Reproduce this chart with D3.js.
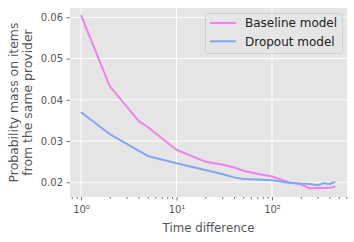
<!DOCTYPE html>
<html>
<head>
<meta charset='utf-8'>
<script src='https://cdn.jsdelivr.net/npm/d3@7'></script>
<style>
  body { margin: 0; background: #fff; }
  text { font-family: 'DejaVu Sans', sans-serif; }
</style>
</head>
<body>
<svg width='354' height='242'></svg>
<script>
// data
const timeDiff = [1, 2, 4, 5, 10, 20, 30, 40, 50, 70, 100, 150, 200, 250, 300, 350, 400, 460]
const baseline = [0.0605, 0.0433, 0.0349, 0.0334, 0.0279, 0.0250, 0.0243, 0.0236, 0.0228, 0.0221, 0.0214, 0.0200, 0.0195, 0.0185, 0.0186, 0.0186, 0.0187, 0.0189]
const dropout  = [0.0370, 0.0317, 0.0277, 0.0264, 0.0246, 0.0230, 0.0220, 0.0212, 0.0208, 0.0207, 0.0205, 0.0199, 0.0197, 0.0196, 0.0193, 0.0198, 0.0196, 0.0201]
const seriesNames = ['Baseline model', 'Dropout model']
const seriesColors = ['#EE82EE', '#80A8F2']
const yTicks = [0.02, 0.03, 0.04, 0.05, 0.06]
const xMajor = [1, 10, 100]
const supers = ['\u2070', '\u00b9', '\u00b2']

const svg = d3.select('svg')
const plot = { left: 70, right: 347, top: 8, bottom: 197 }

const x = d3.scaleLog([0.767, 610], [plot.left, plot.right])
const y = d3.scaleLinear([0.01644, 0.06225], [plot.bottom, plot.top])

// background
svg.append('rect')
  .attr('x', plot.left).attr('y', plot.top)
  .attr('width', plot.right - plot.left).attr('height', plot.bottom - plot.top)
  .attr('fill', '#E5E5E5')

// grid
const grid = svg.append('g')
grid.selectAll('.gx').data(xMajor).join('line')
  .attr('x1', d => x(d)).attr('x2', d => x(d))
  .attr('y1', plot.top).attr('y2', plot.bottom)
  .attr('stroke', '#fff').attr('stroke-width', 1)
grid.selectAll('.gy').data(yTicks).join('line')
  .attr('x1', plot.left).attr('x2', plot.right)
  .attr('y1', d => y(d)).attr('y2', d => y(d))
  .attr('stroke', '#fff').attr('stroke-width', 1)

// x axis: major + minor ticks
const minor = []
for (let dec = 0.1; dec <= 1000; dec *= 10) {
  for (let k = 2; k <= 9; k++) {
    const v = +(k * dec).toPrecision(3)
    if (v >= x.domain()[0] && v <= x.domain()[1]) minor.push(v)
  }
}
const gxMinor = svg.append('g').attr('transform', `translate(0,${plot.bottom})`)
  .call(d3.axisBottom(x).tickValues(minor).tickSize(2).tickFormat(''))
const gx = svg.append('g').attr('transform', `translate(0,${plot.bottom})`)
  .call(d3.axisBottom(x).tickValues(xMajor).tickSize(3.5).tickPadding(4).tickFormat(''))
;[gx, gxMinor].forEach(g => {
  g.select('.domain').remove()
  g.selectAll('.tick line').attr('stroke', '#555').attr('stroke-width', 0.8)
})
gx.selectAll('.tick').append('text')
  .attr('y', 15.5).attr('fill', '#555').attr('font-size', 10).attr('text-anchor', 'middle')
  .text((d, i) => '10' + supers[i])

// y axis
const gy = svg.append('g').attr('transform', `translate(${plot.left},0)`)
  .call(d3.axisLeft(y).tickValues(yTicks).tickSize(3.5).tickPadding(3.5).tickFormat(d3.format('.2f')))
gy.select('.domain').remove()
gy.selectAll('.tick line').attr('stroke', '#555').attr('stroke-width', 0.8)
gy.selectAll('.tick text').attr('fill', '#555').attr('font-size', 10).attr('font-family', 'DejaVu Sans')

// axis labels
svg.append('text').attr('x', (plot.left + plot.right) / 2).attr('y', 232)
  .attr('text-anchor', 'middle').attr('font-size', 11.8).attr('fill', '#555')
  .text('Time difference')
const yl = svg.append('text').attr('transform', `translate(0,${(plot.top + plot.bottom) / 2}) rotate(-90)`)
  .attr('text-anchor', 'middle').attr('font-size', 12.4).attr('fill', '#555')
yl.append('tspan').attr('x', 0).attr('y', 17.5).text('Probability mass on items')
yl.append('tspan').attr('x', 0).attr('y', 31.5).text('from the same provider')

// lines
const line = d3.line().x(d => x(d[0])).y(d => y(d[1]))
const series = [baseline, dropout]
series.forEach((vals, i) => {
  svg.append('path')
    .datum(timeDiff.map((t, j) => [t, vals[j]]))
    .attr('d', line)
    .attr('fill', 'none')
    .attr('stroke', seriesColors[i])
    .attr('stroke-width', 2)
    .attr('stroke-linejoin', 'round')
})

// legend
const lg = svg.append('g')
lg.append('rect').attr('x', 205.5).attr('y', 13.5).attr('width', 137).attr('height', 40)
  .attr('rx', 2.5).attr('fill', '#E5E5E5').attr('fill-opacity', 0.8)
  .attr('stroke', '#CCCCCC').attr('stroke-width', 0.8)
seriesNames.forEach((name, i) => {
  const yy = 23 + i * 18.3
  lg.append('line').attr('x1', 210).attr('x2', 236).attr('y1', yy).attr('y2', yy)
    .attr('stroke', seriesColors[i]).attr('stroke-width', 2)
  lg.append('text').attr('x', 245).attr('y', yy + 4.4)
    .attr('font-size', 12).attr('fill', '#222').text(name)
})
</script>
</body>
</html>
